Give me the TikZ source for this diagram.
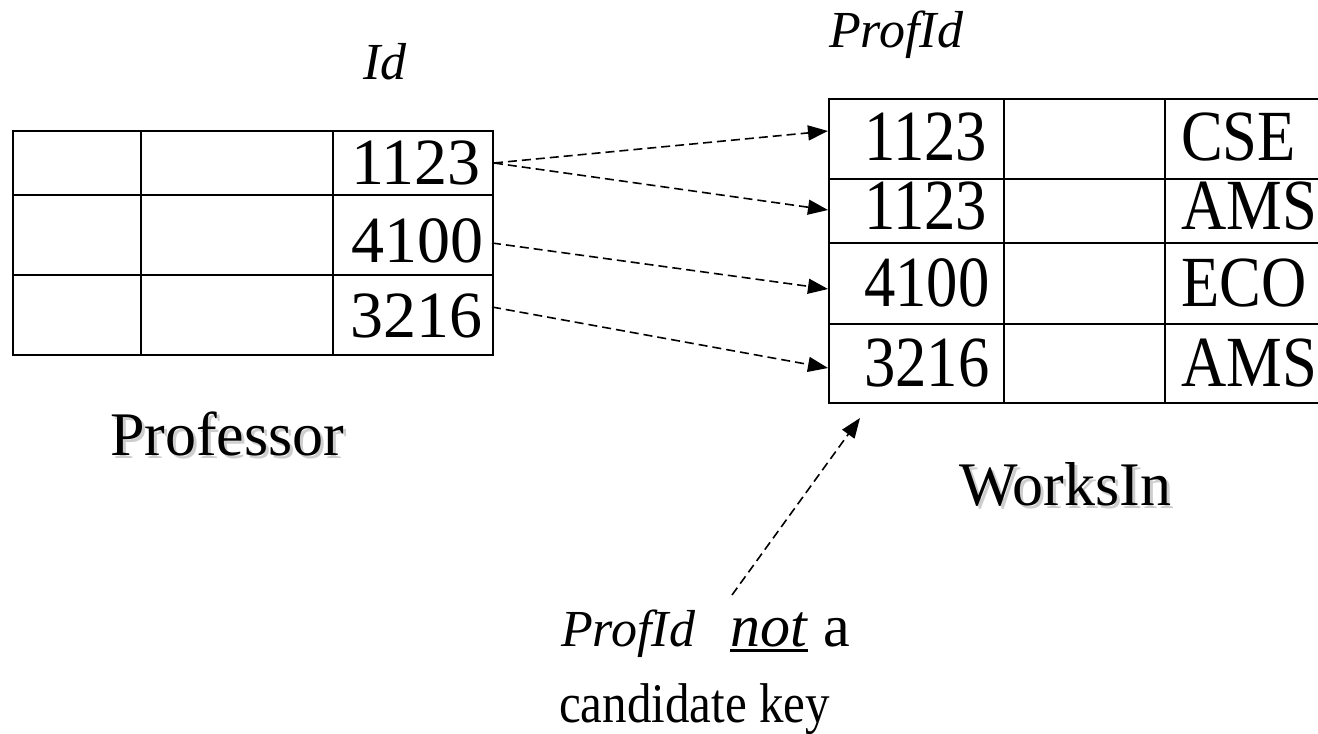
\documentclass[tikz,border=0pt]{standalone}
\usepackage{fontspec}
\setmainfont{Liberation Serif}
\usetikzlibrary{arrows.meta}
\definecolor{shadowgray}{RGB}{205,205,205}
\newcommand\myul[1]{\setbox0\hbox{#1}\leavevmode\rlap{\rule[-6pt]{\wd0}{2.8pt}}\box0\relax}
\newcommand\shadowtext[1]{\rlap{\kern3pt\raisebox{-3pt}{\textcolor{shadowgray}{#1}}}#1}
\begin{document}
\begin{tikzpicture}[x=1pt,y=-1pt,
  cell/.style={draw, line width=2pt, inner sep=0pt, anchor=north west},
  ptxt/.style={font=\fontsize{66}{66}\selectfont, inner sep=0pt, anchor=base west},
  wtxt/.style={font=\fontsize{72}{72}\selectfont, inner sep=0pt, anchor=base west},
  lbl/.style={font=\fontsize{52}{52}\selectfont\itshape, inner sep=0pt, anchor=base west},
  note/.style={font=\fontsize{51}{51}\selectfont, inner sep=0pt, anchor=base west},
  title/.style={font=\fontsize{62}{62}\selectfont, inner sep=0pt, anchor=base west},
  conn/.style={dash pattern=on 9pt off 5pt, line width=1.6pt, -{Triangle[length=20pt,width=15pt]}}]
\path[use as bounding box] (0,0) rectangle (1318,734);
\clip (0,0) rectangle (1318,734);
% Professor table
\node[cell, minimum width=128pt, minimum height=64pt] (p11) at (12,130) {};
\node[cell, minimum width=192pt, minimum height=64pt] (p12) at (140,130) {};
\node[cell, minimum width=160pt, minimum height=64pt] (p13) at (332,130) {};
\node[cell, minimum width=128pt, minimum height=80pt] (p21) at (12,194) {};
\node[cell, minimum width=192pt, minimum height=80pt] (p22) at (140,194) {};
\node[cell, minimum width=160pt, minimum height=80pt] (p23) at (332,194) {};
\node[cell, minimum width=128pt, minimum height=80pt] (p31) at (12,274) {};
\node[cell, minimum width=192pt, minimum height=80pt] (p32) at (140,274) {};
\node[cell, minimum width=160pt, minimum height=80pt] (p33) at (332,274) {};
\node[ptxt] (tp1) at (351,184) {1123};
\node[ptxt] (tp2) at (351,262) {4100};
\node[ptxt] (tp3) at (350,337) {3216};
% WorksIn table
\node[cell, minimum width=175pt, minimum height=80pt] (w11) at (828,98) {};
\node[cell, minimum width=161pt, minimum height=80pt] (w12) at (1003,98) {};
\node[cell, minimum width=180pt, minimum height=80pt] (w13) at (1164,98) {};
\node[cell, minimum width=175pt, minimum height=64pt] (w21) at (828,178) {};
\node[cell, minimum width=161pt, minimum height=64pt] (w22) at (1003,178) {};
\node[cell, minimum width=180pt, minimum height=64pt] (w23) at (1164,178) {};
\node[cell, minimum width=175pt, minimum height=81pt] (w31) at (828,242) {};
\node[cell, minimum width=161pt, minimum height=81pt] (w32) at (1003,242) {};
\node[cell, minimum width=180pt, minimum height=81pt] (w33) at (1164,242) {};
\node[cell, minimum width=175pt, minimum height=79pt] (w41) at (828,323) {};
\node[cell, minimum width=161pt, minimum height=79pt] (w42) at (1003,323) {};
\node[cell, minimum width=180pt, minimum height=79pt] (w43) at (1164,323) {};
\node[wtxt] (tw1a) at (864,160) {\scalebox{0.87}[1]{1123}};
\node[wtxt] (tw2a) at (864,229) {\scalebox{0.87}[1]{1123}};
\node[wtxt] (tw3a) at (864,306) {\scalebox{0.87}[1]{4100}};
\node[wtxt] (tw4a) at (864,386) {\scalebox{0.87}[1]{3216}};
\node[wtxt] (tw1c) at (1181,160) {\scalebox{0.87}[1]{CSE}};
\node[wtxt] (tw2c) at (1181,229) {\scalebox{0.87}[1]{AMS}};
\node[wtxt] (tw3c) at (1181,306) {\scalebox{0.87}[1]{ECO}};
\node[wtxt] (tw4c) at (1181,386) {\scalebox{0.87}[1]{AMS}};
% column labels
\node[lbl] (idlbl) at (363,79) {Id};
\node[lbl] (profidlbl) at (829,47) {ProfId};
% table names with shadow
\node[title] (profname) at (110,455) {\shadowtext{Professor}};
\node[title] (worksname) at (959,505) {\shadowtext{WorksIn}};
% note
\node[note] (note1) at (561,646) {{\fontsize{52}{52}\selectfont\textit{ProfId}}\hspace{35pt}{\fontsize{60}{60}\selectfont\myul{\textit{not}} a}};
\node[note] (note2) at (559,722) {\fontsize{56}{56}\selectfont\scalebox{0.875}[1]{candidate key}};
% connector end points
\coordinate (s2) at (492,243);
\coordinate (s3) at (492,307);
\coordinate (e1) at (828,131);
\coordinate (e2) at (828,210);
\coordinate (e3) at (828,289);
\coordinate (e4) at (828,368);
\coordinate (ns) at (732,595);
\coordinate (ne) at (860,418);
\draw[conn] (p13.east) -- (e1);
\draw[conn] (p13.east) -- (e2);
\draw[conn] (s2) -- (e3);
\draw[conn] (s3) -- (e4);
\draw[conn] (ns) -- (ne);
\end{tikzpicture}
\end{document}
